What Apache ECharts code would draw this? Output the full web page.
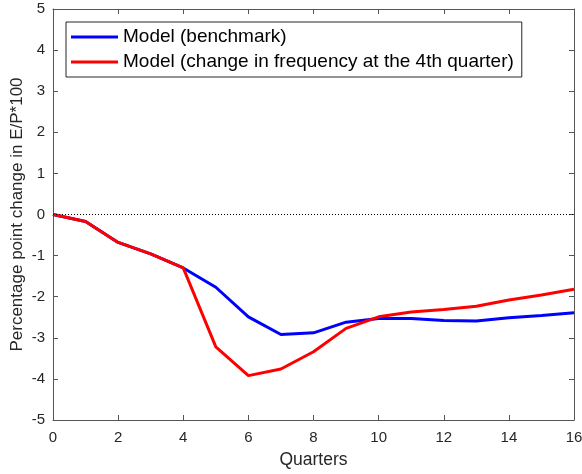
<!DOCTYPE html>
<html>
<head>
<meta charset="utf-8">
<script src="https://cdn.jsdelivr.net/npm/echarts@6/dist/echarts.min.js"></script>
<style>
  html, body { margin: 0; padding: 0; background: #fff; }
  #chart { width: 582px; height: 474px; }
</style>
</head>
<body>
<div id="chart"></div>
<script>
// Quarters after the shock
const quarters = [0, 1, 2, 3, 4, 5, 6, 7, 8, 9, 10, 11, 12, 13, 14, 15, 16];

// Percentage point change in E/P*100
const benchmark = [0, -0.17, -0.68, -0.96, -1.30, -1.77, -2.49, -2.92, -2.88, -2.62, -2.53, -2.53, -2.58, -2.59, -2.51, -2.46, -2.39];
const freqChange = [0, -0.17, -0.68, -0.96, -1.30, -3.22, -3.92, -3.76, -3.34, -2.77, -2.49, -2.37, -2.31, -2.23, -2.08, -1.96, -1.82];

const seriesNames = ['Model (benchmark)', 'Model (change in frequency at the 4th quarter)'];
const xTicks = [0, 2, 4, 6, 8, 10, 12, 14, 16];
const yTicks = [-5, -4, -3, -2, -1, 0, 1, 2, 3, 4, 5];

const axisColor = '#262626';
const frameColor = '#555555';
const font = 'Liberation Sans, Arial, Helvetica, sans-serif';

const pairs = (ys) => quarters.map((q, i) => [q, ys[i]]);

// Box-style axes: line on every side, short ticks pointing inward
const frame = {
  axisLine: { show: true, onZero: false, lineStyle: { color: frameColor, width: 1 } },
  axisTick: { show: true, inside: true, length: 5, lineStyle: { color: frameColor, width: 1 } },
  splitLine: { show: false }
};

const chart = echarts.init(document.getElementById('chart'), null, { renderer: 'canvas' });
chart.setOption({
  backgroundColor: '#ffffff',
  animation: false,
  grid: { left: 53, right: 8, top: 9, bottom: 54, containLabel: false, outerBoundsMode: 'none' },
  legend: {
    orient: 'vertical',
    left: 66,
    top: 22,
    padding: [5, 8, 5, 5],
    itemGap: 5,
    itemWidth: 47,
    itemHeight: 3,
    icon: 'rect',
    borderColor: '#262626',
    borderWidth: 1,
    backgroundColor: '#ffffff',
    textStyle: { fontFamily: font, fontSize: 19, color: '#000', lineHeight: 20 },
    data: seriesNames
  },
  xAxis: [
    Object.assign({
      type: 'value', min: xTicks[0], max: xTicks[xTicks.length - 1], interval: 2,
      position: 'bottom',
      name: 'Quarters', nameLocation: 'middle', nameGap: 31, nameMoveOverlap: false,
      nameTextStyle: { fontFamily: font, fontSize: 17.5, color: axisColor },
      axisLabel: { fontFamily: font, fontSize: 15, color: axisColor, margin: 10 }
    }, frame),
    Object.assign({
      type: 'value', min: xTicks[0], max: xTicks[xTicks.length - 1], interval: 2,
      position: 'top', axisLabel: { show: false }
    }, frame)
  ],
  yAxis: [
    Object.assign({
      type: 'value', min: yTicks[0], max: yTicks[yTicks.length - 1], interval: 1,
      position: 'left',
      name: 'Percentage point change in E/P*100', nameLocation: 'middle', nameGap: 27, nameMoveOverlap: false,
      nameTextStyle: { fontFamily: font, fontSize: 17, color: axisColor },
      axisLabel: { fontFamily: font, fontSize: 15, color: axisColor, margin: 8 }
    }, frame),
    Object.assign({
      type: 'value', min: yTicks[0], max: yTicks[yTicks.length - 1], interval: 1,
      position: 'right', axisLabel: { show: false }
    }, frame)
  ],
  series: [
    {
      name: seriesNames[0], type: 'line', data: pairs(benchmark),
      xAxisIndex: 0, yAxisIndex: 0,
      showSymbol: false, symbol: 'none',
      lineStyle: { color: '#0000ff', width: 3 }, itemStyle: { color: '#0000ff' },
      z: 3,
      markLine: {
        silent: true, symbol: 'none', label: { show: false },
        lineStyle: { color: '#000', width: 1, type: [1, 2] },
        data: [{ yAxis: 0 }]
      }
    },
    {
      name: seriesNames[1], type: 'line', data: pairs(freqChange),
      xAxisIndex: 0, yAxisIndex: 0,
      showSymbol: false, symbol: 'none',
      lineStyle: { color: '#ff0000', width: 3 }, itemStyle: { color: '#ff0000' },
      z: 4
    }
  ]
});
</script>
</body>
</html>
